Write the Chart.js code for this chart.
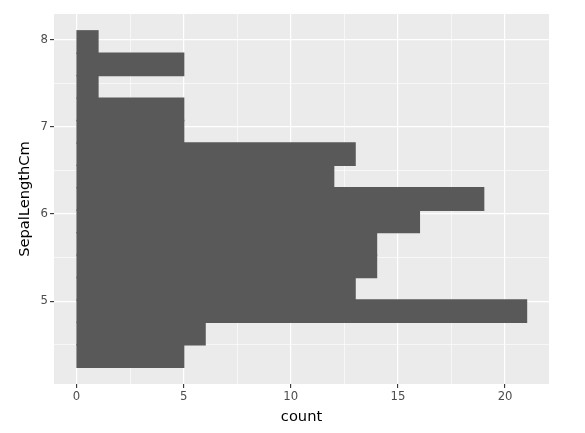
<!DOCTYPE html>
<html>
<head>
<meta charset="utf-8">
<script src="https://cdn.jsdelivr.net/npm/chart.js@4"></script>
<style>
  html, body { margin: 0; padding: 0; background: #fff; }
</style>
</head>
<body>
<canvas id="chart" width="585" height="433"></canvas>
<script>
// histogram of SepalLengthCm, 15 bins (centres and counts)
const binCenters = [4.3714, 4.6286, 4.8857, 5.1429, 5.4, 5.6571, 5.9143, 6.1714,
  6.4286, 6.6857, 6.9429, 7.2, 7.4571, 7.7143, 7.9714];
const counts = [5, 6, 21, 13, 14, 14, 16, 19, 12, 13, 5, 5, 1, 5, 1];

const xTicks = [0, 5, 10, 15, 20];
const xMinor = [2.5, 7.5, 12.5, 17.5];
const yTicks = [5, 6, 7, 8];
const yMinor = [4.5, 5.5, 6.5, 7.5];

const font = "'DejaVu Sans', sans-serif";

const panel = {
  id: "panel",
  beforeDraw(c) {
    const a = c.chartArea;
    c.ctx.save();
    c.ctx.fillStyle = "#EBEBEB";
    c.ctx.fillRect(a.left, a.top, a.right - a.left, a.bottom - a.top);
    c.ctx.restore();
  }
};

function isMajor(major, ctx) {
  return !!(ctx.tick && major.includes(ctx.tick.value));
}

function gridOpts(major) {
  return {
    offset: false,
    color: "#FFFFFF",
    lineWidth: ctx => isMajor(major, ctx) ? 1.2 : 0.6,
    tickColor: ctx => isMajor(major, ctx) ? "#333333" : "rgba(0,0,0,0)",
    tickLength: 4,
    tickWidth: 1.1
  };
}

new Chart(document.getElementById("chart"), {
  type: "bar",
  data: {
    datasets: [{
      data: binCenters.map((c, i) => ({ y: c, x: counts[i] })),
      backgroundColor: "#595959",
      borderWidth: 0,
      inflateAmount: 0.7,
      barPercentage: 1,
      categoryPercentage: 1
    }]
  },
  options: {
    indexAxis: "y",
    responsive: false,
    animation: false,
    devicePixelRatio: 1,
    layout: { padding: { left: 0, top: 14, right: 36, bottom: 0 } },
    plugins: { legend: { display: false }, tooltip: { enabled: false } },
    scales: {
      x: {
        type: "linear",
        min: -1.05,
        max: 22.05,
        afterBuildTicks: s => { s.ticks = [...xTicks, ...xMinor].sort((a, b) => a - b).map(v => ({ value: v })); },
        afterFit: s => { s.height = 49; },
        grid: gridOpts(xTicks),
        border: { display: false },
        ticks: {
          autoSkip: false,
          maxRotation: 0,
          padding: 2,
          color: "#4D4D4D",
          font: { family: font, size: 11.7 },
          callback: v => xTicks.includes(v) ? String(v) : ""
        },
        title: {
          display: true,
          text: "count",
          color: "#000000",
          font: { family: font, size: 14.67 },
          padding: { top: 0, bottom: 6.7 }
        }
      },
      y: {
        type: "linear",
        offset: false,
        min: 4.05,
        max: 8.293,
        afterBuildTicks: s => { s.ticks = [...yTicks, ...yMinor].sort((a, b) => a - b).map(v => ({ value: v })); },
        afterFit: s => { s.width = 54; },
        grid: gridOpts(yTicks),
        border: { display: false },
        ticks: {
          autoSkip: false,
          padding: 2,
          color: "#4D4D4D",
          font: { family: font, size: 11.7 },
          callback: v => yTicks.includes(v) ? String(v) : ""
        },
        title: {
          display: true,
          text: "SepalLengthCm",
          color: "#000000",
          font: { family: font, size: 14.67 },
          padding: { top: 16.2, bottom: 0 }
        }
      }
    }
  },
  plugins: [panel]
});
</script>
</body>
</html>
